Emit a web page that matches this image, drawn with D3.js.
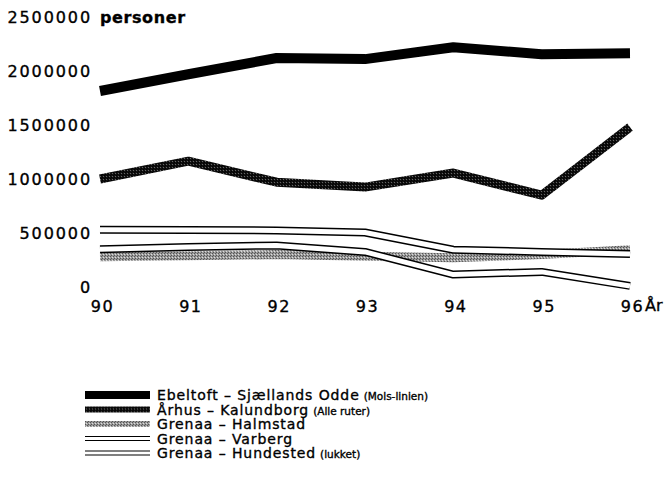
<!DOCTYPE html>
<html>
<head>
<meta charset="utf-8">
<script src="https://cdn.jsdelivr.net/npm/d3@7/dist/d3.min.js"></script>
<style>
  body { margin: 0; background: #fff; }
  svg text { font-family: "DejaVu Sans", Verdana, sans-serif; fill: #000; stroke: #000; stroke-width: 0.35px; }
</style>
</head>
<body>
<svg id="chart" width="667" height="477"></svg>
<script>
// data (passengers per year)
const years = [90, 91, 92, 93, 94, 95, 96];
const ebeltoft = [1815000, 1970000, 2120000, 2110000, 2220000, 2155000, 2165000];
const aarhus = [1000000, 1165000, 970000, 925000, 1055000, 850000, 1480000];
const halmstad = [280000, 290000, 300000, 285000, 270000, 300000, 345000];
const varberg = [530000, 528000, 524000, 505000, 345000, 325000, 305000];
const hundested = [350000, 370000, 385000, 325000, 115000, 140000, 10000];
const yTicks = [0, 500000, 1000000, 1500000, 2000000, 2500000];

const svg = d3.select("#chart");

// stipple patterns for the grey lines
let defs = svg.append("defs");
function stipple(id, base, dot, light) {
    let p = defs.append("pattern").attr("id", id)
        .attr("patternUnits", "userSpaceOnUse").attr("width", 3).attr("height", 3);
    p.append("rect").attr("width", 3).attr("height", 3).attr("fill", base);
    p.append("rect").attr("width", 1).attr("height", 1).attr("fill", dot);
    p.append("rect").attr("x", 2).attr("y", 1).attr("width", 1).attr("height", 1).attr("fill", dot);
    p.append("rect").attr("x", 1).attr("y", 2).attr("width", 1).attr("height", 1).attr("fill", light);
}
stipple("darkDots", "#111", "#000", "#666");
stipple("greyDots", "#9a9a9a", "#555", "#ddd");

const x = d3.scaleLinear().domain([90, 96]).range([100, 630]);
const y = d3.scaleLinear().domain([0, 2500000]).range([287, 17]);

// y axis labels only
let yAxis = svg.append("g").attr("transform", "translate(92,0)")
    .call(d3.axisLeft(y).tickValues(yTicks).tickSize(0).tickPadding(0).tickFormat(d3.format("d")));
yAxis.select(".domain").remove();
yAxis.selectAll("text").style("font-size", "16px").style("letter-spacing", "1.9px")
    .style("font-family", "DejaVu Sans").attr("dy", "0.36em");

svg.append("text").attr("x", 100).attr("y", 23).style("font-size", "16px")
    .style("font-weight", "bold").style("letter-spacing", "0.6px").text("personer");

// x axis labels
let xAxis = svg.append("g").attr("transform", "translate(2,299)")
    .call(d3.axisBottom(x).tickValues(years).tickSize(0).tickPadding(0).tickFormat(d => d));
xAxis.select(".domain").remove();
xAxis.selectAll("text").style("font-size", "16px").style("letter-spacing", "1.5px")
    .style("font-family", "DejaVu Sans").attr("dy", "0.8em");

svg.append("text").attr("x", 645).attr("y", 311).style("font-size", "16px").text("År");

let line = d3.line().x((d, i) => x(years[i])).y(d => y(d));

let series = [
    {name: "halmstad", values: halmstad, layers: [{stroke: "url(#greyDots)", w: 9}]},
    {name: "aarhus", values: aarhus, layers: [{stroke: "url(#darkDots)", w: 9}]},
    {name: "ebeltoft", values: ebeltoft, layers: [{stroke: "#000", w: 10}]},
    {name: "hundested", values: hundested, layers: [{stroke: "#000", w: 8}, {stroke: "#fff", w: 5}]},
    {name: "varberg", values: varberg, layers: [{stroke: "#000", w: 8}, {stroke: "#fff", w: 5}]}
];

let lines = svg.append("g");
series.forEach(s => {
    s.layers.forEach(l => {
        lines.append("path").datum(s.values)
            .attr("class", "line " + s.name)
            .attr("d", line)
            .attr("fill", "none")
            .attr("stroke", l.stroke)
            .attr("stroke-width", l.w)
            .attr("stroke-linejoin", "round");
    });
});

// legend
const legendNames = ["Ebeltoft – Sjællands Odde", "Århus – Kalundborg", "Grenaa – Halmstad", "Grenaa – Varberg", "Grenaa – Hundested"];
const legendNotes = ["(Mols-linien)", "(Alle ruter)", "", "", "(lukket)"];
const legendKeys = ["ebeltoft", "aarhus", "halmstad", "varberg", "hundested"];

let legend = svg.append("g").attr("transform", "translate(85,395)");
legendKeys.forEach((k, i) => {
    let g = legend.append("g").attr("transform", "translate(0," + (i * 14.5) + ")");
    if (k === "ebeltoft") {
        g.append("rect").attr("x", 0).attr("y", -4).attr("width", 65).attr("height", 8).attr("fill", "#000");
    } else if (k === "aarhus") {
        g.append("rect").attr("x", 0).attr("y", -3).attr("width", 65).attr("height", 6).attr("fill", "url(#darkDots)");
    } else if (k === "halmstad") {
        g.append("rect").attr("x", 0).attr("y", -3).attr("width", 65).attr("height", 6).attr("fill", "url(#greyDots)");
    } else {
        g.append("line").attr("x1", 0).attr("x2", 65).attr("y1", -2).attr("y2", -2).attr("stroke", "#000").attr("stroke-width", 1.2);
        g.append("line").attr("x1", 0).attr("x2", 65).attr("y1", 2).attr("y2", 2).attr("stroke", "#000").attr("stroke-width", 1.2);
    }
    let t = g.append("text").attr("x", 72).attr("y", 5).style("font-size", "14px").style("letter-spacing", "0.9px");
    t.append("tspan").text(legendNames[i]);
    if (legendNotes[i]) t.append("tspan").attr("dx", 4).style("font-size", "10.5px").style("letter-spacing", "0px").text(legendNotes[i]);
});
</script>
</body>
</html>
